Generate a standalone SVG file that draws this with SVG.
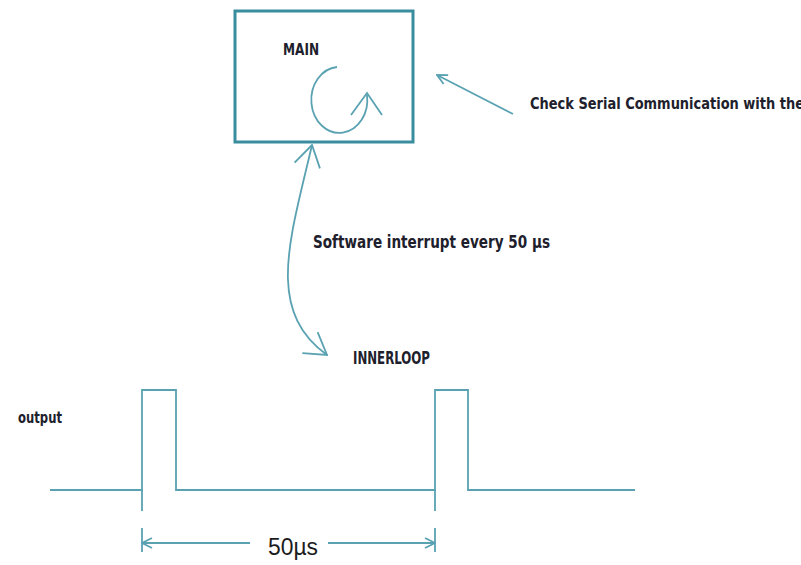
<svg xmlns="http://www.w3.org/2000/svg" width="801" height="565" viewBox="0 0 801 565">
  <style>
    .lbl { font-family: "DejaVu Sans Condensed", "DejaVu Sans", sans-serif; font-weight: bold; fill: #20202c; }
    .box { fill: #ffffff; stroke: #3a8d9e; stroke-width: 3; }
    .ln { fill: none; stroke: #5aa2b2; stroke-width: 1.8; }
    .dim { font-family: "Liberation Sans", Arial, sans-serif; fill: #1c1c1c; }
  </style>
  <defs>
    <marker id="open" viewBox="0 0 12 12" refX="11" refY="6" markerWidth="12" markerHeight="12" markerUnits="userSpaceOnUse" orient="auto-start-reverse">
      <path d="M1 1 L11 6 L1 11" fill="none" stroke="#5aa2b2" stroke-width="1.8"/>
    </marker>
    <marker id="big" viewBox="0 0 24 30" refX="23" refY="15" markerWidth="24" markerHeight="30" markerUnits="userSpaceOnUse" orient="auto-start-reverse">
      <path d="M2 2 L23 15 L2 28" fill="none" stroke="#5aa2b2" stroke-width="1.8"/>
    </marker>
  </defs>
  <rect width="801" height="565" fill="#ffffff"/>

  <g id="main">
    <rect class="box" x="235" y="11" width="178" height="131"/>
    <text class="lbl" x="283" y="55" font-size="16" textLength="36" lengthAdjust="spacingAndGlyphs">MAIN</text>
    <path class="ln" d="M337 67 A28 33 0 1 0 367 95"/>
    <path class="ln" d="M351 115 L367 93 L382 115"/>
  </g>

  <g id="note">
    <text class="lbl" x="530" y="109" font-size="16" textLength="274" lengthAdjust="spacingAndGlyphs">Check Serial Communication with the</text>
  </g>

  <g id="interrupt-label">
    <text class="lbl" x="313" y="248" font-size="17" textLength="237" lengthAdjust="spacingAndGlyphs">Software interrupt every 50 µs</text>
  </g>

  <g id="innerloop">
    <text class="lbl" x="353" y="364" font-size="17" textLength="77" lengthAdjust="spacingAndGlyphs">INNERLOOP</text>
  </g>

  <g id="output">
    <text class="lbl" x="18" y="423" font-size="15" textLength="44" lengthAdjust="spacingAndGlyphs">output</text>
    <path class="ln" d="M50 490 H142 V390 H176 V490 H435 V390 H468 V490 H635"/>
    <path class="ln" d="M142 490 V511 M142 528 V552 M435 490 V511 M435 528 V552"/>
  </g>

  <g id="connectors">
    <path class="ln" d="M513 114 L437 75" marker-end="url(#open)"/>
    <path class="ln" d="M312 145 C290 240 265 310 327 355" marker-start="url(#big)" marker-end="url(#big)"/>
    <path class="ln" d="M250 543 H142" marker-end="url(#open)"/>
    <path class="ln" d="M328 543 H435" marker-end="url(#open)"/>
    <text class="dim" x="268" y="555" font-size="23" textLength="50" lengthAdjust="spacingAndGlyphs">50µs</text>
  </g>
</svg>
